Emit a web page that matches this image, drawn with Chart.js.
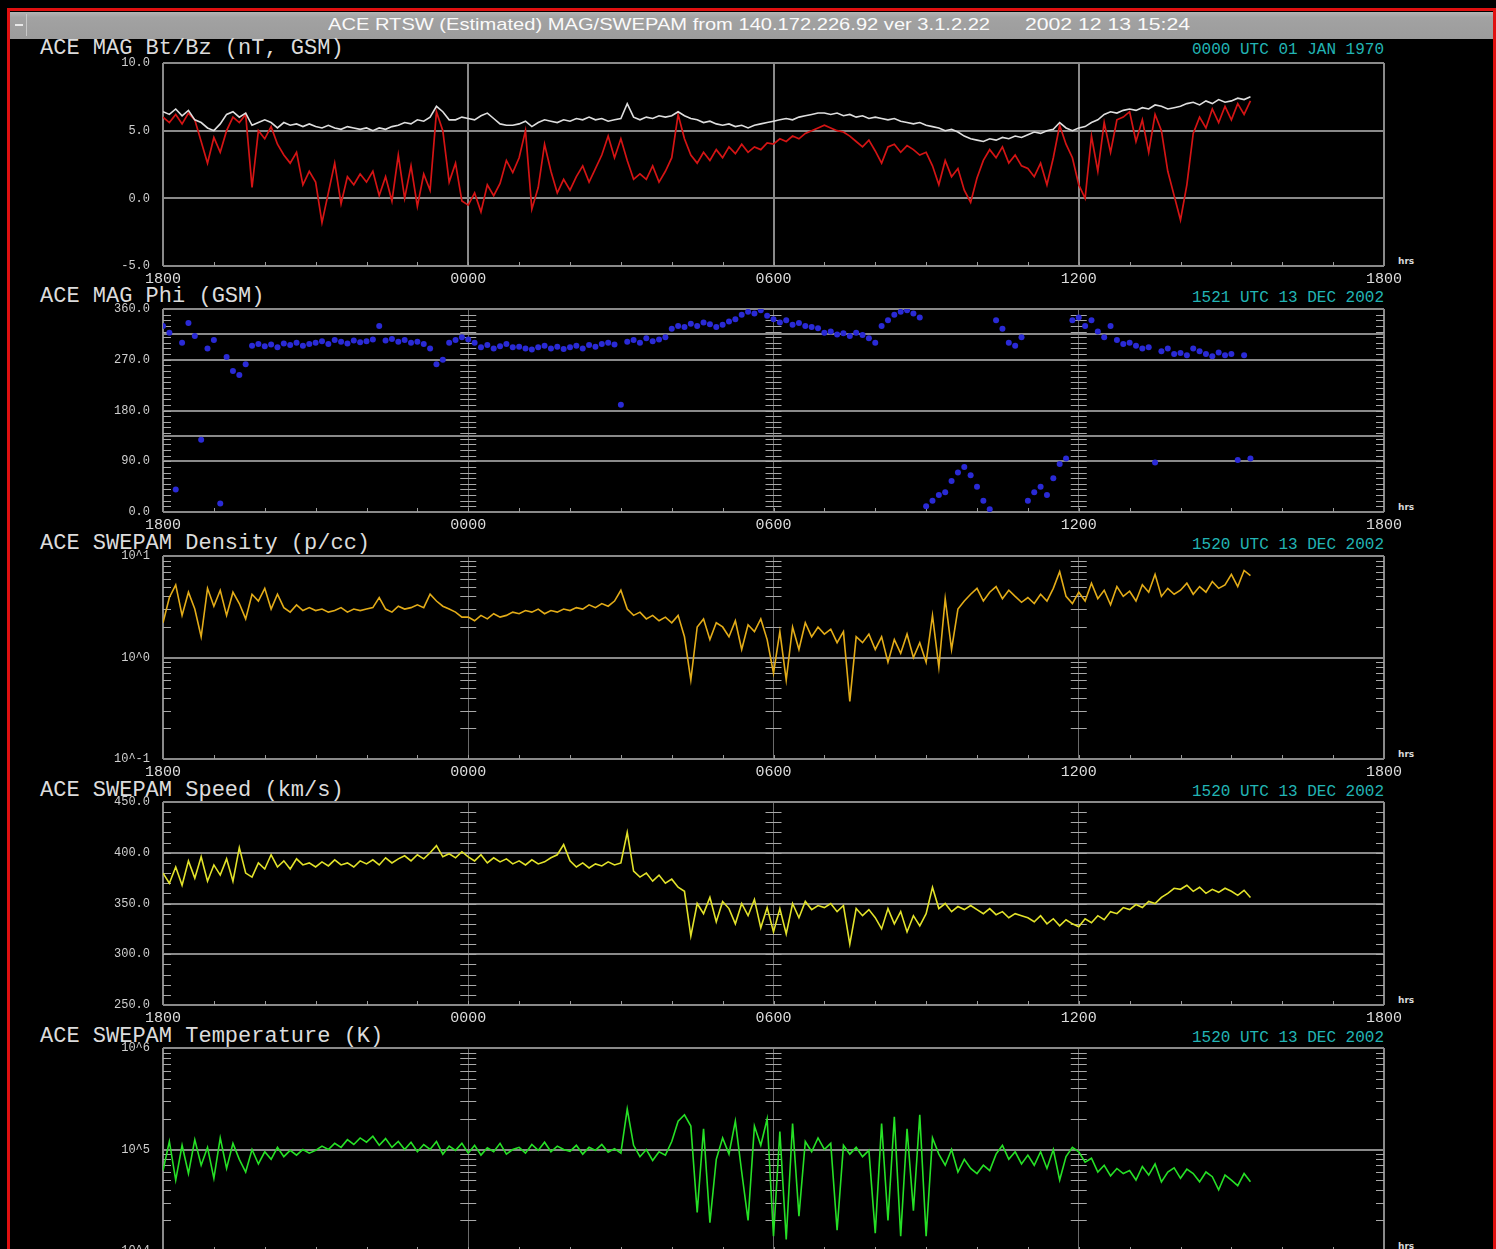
<!DOCTYPE html>
<html><head><meta charset="utf-8">
<script src="https://cdn.jsdelivr.net/npm/chart.js@4.4.1/dist/chart.umd.min.js"></script>
<style>
html,body{margin:0;padding:0;background:#000;width:1496px;height:1249px;overflow:hidden;}
.abs{position:absolute;white-space:pre;}
#frame{left:7px;top:8px;width:1483px;height:1300px;border:3px solid #e01010;}
#bar{left:10px;top:12px;width:1483px;height:27px;background:linear-gradient(#b4b4b4,#a2a2a2 20%,#9c9c9c);}
#btn{left:12px;top:14px;width:14px;height:22px;border-right:1px solid #c8c8c8;}
#btn:after{content:"";position:absolute;left:3px;top:10px;width:8px;height:2px;background:#e8e8e8;}
.hdr{color:#fafafa;font-family:"Liberation Sans",sans-serif;font-size:17px;top:15px;line-height:20px;transform-origin:0 50%;}
.ttl{color:#dcdcdc;font-family:"Liberation Mono",monospace;font-size:22px;line-height:22px;left:40px;}
.dt{color:#22b4b4;font-family:"Liberation Mono",monospace;font-size:16px;line-height:16px;right:112px;}
.hrs{color:#d8d8d8;font-family:"DejaVu Sans",sans-serif;font-size:9px;line-height:9px;left:1398px;font-weight:bold;}
canvas{position:absolute;left:0;}
</style></head><body>
<div id="frame" class="abs"></div>
<div id="bar" class="abs"></div>
<div id="btn" class="abs"></div>
<div id="h1" class="abs hdr" style="left:328px">ACE RTSW (Estimated) MAG/SWEPAM from 140.172.226.92 ver 3.1.2.22</div>
<div id="h2" class="abs hdr" style="left:1025px">2002 12 13 15:24</div>
<div id="texts"></div>
<script>
// ---------------- data ----------------
const STEP_HOURS = 0.125;           // sample spacing, hours after 1800 UT
const xTickHours  = [0, 6, 12, 18, 24];
const xTickLabels = ['1800', '0000', '0600', '1200', '1800'];

const bt = [
6.4,6.2,6.6,6.1,6.5,5.8,5.6,5.2,
5.0,5.5,6.2,6.4,6.0,6.3,5.4,5.6,
5.8,5.6,5.2,5.6,5.4,5.5,5.3,5.5,
5.3,5.2,5.4,5.2,5.1,5.3,5.2,5.1,
5.2,5.0,5.2,5.1,5.3,5.4,5.6,5.5,
5.8,5.7,6.0,6.8,6.4,5.8,5.8,6.0,
5.9,5.8,6.1,6.3,5.9,5.5,5.4,5.4,
5.5,5.7,5.3,5.6,5.8,5.7,5.6,5.8,
5.7,5.9,5.8,6.0,5.8,5.9,5.7,5.8,
5.9,7.0,6.0,5.8,6.0,5.9,6.1,6.0,
6.1,6.4,6.1,5.9,5.8,5.6,5.7,5.5,
5.4,5.5,5.3,5.4,5.2,5.4,5.5,5.6,
5.7,5.8,5.9,5.8,6.0,6.1,6.2,6.3,
6.3,6.2,6.3,6.1,6.2,6.0,6.1,5.9,
6.0,5.9,5.8,5.9,5.7,5.6,5.5,5.6,
5.4,5.3,5.2,5.0,5.1,4.9,4.6,4.4,
4.3,4.2,4.4,4.3,4.5,4.4,4.6,4.5,
4.7,4.9,4.8,5.0,5.1,5.6,5.2,5.0,
5.2,5.3,5.6,5.8,6.2,6.4,6.3,6.5,
6.6,6.5,6.7,6.6,6.9,6.8,6.6,6.7,
6.8,7.0,7.1,6.9,7.2,7.0,7.3,7.1,
7.2,7.4,7.3,7.5];
const bz = [
6.0,5.6,6.2,5.5,6.3,5.8,4.2,2.6,
4.5,3.4,5.0,6.0,5.6,6.2,0.8,5.0,
4.4,5.3,4.0,3.2,2.6,3.4,1.0,2.0,
1.2,-1.8,0.4,2.6,-0.4,1.6,1.0,1.8,
1.2,2.0,0.2,1.6,-0.2,3.2,0.0,2.4,
-0.6,1.8,0.6,6.4,5.0,1.2,2.6,-0.2,
-0.5,0.4,-1.0,1.0,0.2,1.1,2.8,1.9,
3.0,5.0,-0.8,0.8,4.0,2.0,0.4,1.4,
0.6,1.6,2.4,1.2,2.2,3.2,4.6,3.0,
4.4,2.8,1.4,1.8,1.4,2.4,1.2,2.0,
3.0,6.2,4.4,3.2,2.6,3.4,2.8,3.6,
3.0,3.8,3.3,4.0,3.4,3.8,3.6,4.1,
4.0,4.4,4.2,4.6,4.4,4.8,5.0,5.2,
5.4,5.2,5.0,4.9,4.6,4.2,3.8,4.3,
3.5,2.6,3.8,4.0,3.4,3.9,3.6,3.2,
3.4,2.4,1.0,2.8,1.6,2.2,0.6,-0.3,
1.5,2.8,3.6,3.0,3.8,2.6,3.2,2.4,
2.2,1.6,2.6,1.0,3.0,5.4,4.0,3.0,
1.0,0.0,4.6,2.0,5.6,3.4,5.8,6.0,
6.4,4.2,5.8,3.4,6.2,5.0,2.0,0.2,
-1.6,1.0,4.8,6.0,5.2,6.6,5.6,6.8,
5.8,7.0,6.2,7.2];
const phi = [
330,318,40,300,335,312,128,290,
305,15,275,250,243,262,295,298,
294,297,292,299,296,300,295,298,
300,303,298,305,302,299,304,301,
303,306,330,304,307,302,305,300,
302,298,290,262,270,300,305,310,
306,300,292,296,290,294,298,292,
293,290,288,292,295,290,293,289,
292,295,290,296,293,298,300,297,
190,302,305,300,308,303,306,310,
325,330,328,334,330,336,333,328,
332,338,342,350,355,352,358,348,
342,336,340,332,335,330,328,326,
318,320,315,317,312,318,314,308,
300,330,340,350,355,358,352,345,
10,20,30,35,55,70,80,65,
45,20,5,340,325,300,295,310,
20,35,45,30,60,85,95,340,
345,330,340,320,310,330,305,298,
300,295,290,292,88,285,290,280,
282,278,290,285,280,276,283,278,
280,92,278,95];
const density = [
2.2,3.9,5.2,2.6,4.4,3.0,1.6,4.8,
3.2,4.6,2.6,4.4,3.4,2.4,4.2,3.6,
4.8,3.0,4.2,3.1,2.8,3.3,2.9,3.1,
2.9,3.0,2.8,2.9,3.1,2.8,3.0,2.9,
3.0,3.1,3.9,3.0,2.8,3.2,3.0,3.1,
3.3,3.1,4.2,3.6,3.2,3.0,2.8,2.5,
2.5,2.3,2.6,2.4,2.7,2.5,2.6,2.8,
2.7,2.9,2.8,3.0,2.7,2.9,2.8,3.0,
2.9,3.1,3.0,3.3,3.1,3.4,3.2,3.6,
4.6,3.0,2.6,2.8,2.4,2.6,2.3,2.5,
2.2,2.6,1.6,0.6,2.0,2.4,1.5,2.2,
2.0,1.6,2.3,1.2,2.1,1.8,2.4,1.5,
0.7,1.8,0.6,2.0,1.2,2.2,1.6,2.0,
1.7,1.9,1.4,1.8,0.37,1.6,1.4,1.7,
1.2,1.6,0.9,1.5,1.1,1.7,1.0,1.4,
0.9,2.6,0.8,3.8,1.2,3.0,3.6,4.2,
4.8,3.6,4.4,5.0,3.8,4.6,4.0,3.5,
3.9,3.4,4.2,3.6,4.8,7.0,4.0,3.4,
4.4,3.6,5.4,3.8,4.6,3.3,5.0,4.0,
4.5,3.6,5.2,4.4,6.6,4.0,4.8,4.2,
4.6,5.4,4.2,5.0,4.4,5.6,4.8,5.2,
6.6,5.0,7.2,6.4];
const speed = [
380,370,386,368,392,375,396,372,
388,378,394,372,405,380,376,390,
384,398,386,392,384,394,388,390,
386,391,387,393,388,390,386,392,
389,393,388,395,390,394,397,392,
398,394,400,407,396,399,395,401,
396,392,398,390,395,391,394,389,
392,388,393,389,391,395,398,408,
392,386,390,385,389,387,391,388,
390,420,382,376,380,372,378,370,
374,366,362,318,350,340,356,332,
352,345,330,350,338,354,326,346,
322,345,320,350,336,352,344,348,
346,350,342,348,310,345,338,344,
336,325,345,330,342,322,338,328,
340,366,345,350,342,347,344,348,
344,340,345,339,342,336,340,338,
336,332,338,330,335,328,334,330,
327,335,331,338,334,342,340,346,
344,349,346,352,350,356,360,365,
364,368,362,366,360,364,361,365,
362,358,363,356];
const temperature = [
62000,120000,50000,110000,58000,125000,70000,105000,
52000,130000,65000,115000,80000,60000,100000,72000,
95000,80000,105000,85000,98000,88000,100000,92000,
98000,108000,100000,115000,105000,125000,112000,130000,
118000,135000,110000,128000,105000,120000,100000,118000,
95000,112000,100000,120000,90000,108000,98000,115000,
92000,110000,88000,104000,95000,115000,90000,100000,
105000,92000,112000,98000,118000,95000,108000,100000,
96000,110000,90000,105000,98000,112000,94000,102000,
92000,250000,110000,85000,100000,78000,95000,88000,
120000,190000,220000,170000,24000,160000,19000,80000,
130000,90000,190000,60000,20000,170000,110000,200000,
14000,150000,13000,180000,22000,120000,95000,130000,
100000,115000,16000,110000,90000,105000,85000,98000,
15000,180000,20000,210000,14000,160000,25000,220000,
14000,130000,90000,70000,100000,60000,80000,65000,
58000,70000,62000,90000,110000,80000,95000,72000,
88000,70000,95000,65000,100000,50000,85000,105000,
95000,75000,82000,60000,70000,55000,65000,58000,
62000,50000,68000,56000,72000,48000,60000,66000,
52000,64000,58000,48000,60000,54000,40000,56000,
50000,44000,58000,48000];

const btbzTicks = [-5, 0, 5, 10];
const phiTicks = [0, 90, 135, 180, 270, 315, 360];
const phiLabelled = [0, 90, 180, 270, 360];
const densTicks = [0.1, 1, 10];
const densLabels = {0.1: '10^-1', 1: '10^0', 10: '10^1'};
const speedTicks = [250, 300, 350, 400, 450];
const tempTicks = [1e4, 1e5, 1e6];
const tempLabels = {10000: '10^4', 100000: '10^5', 1000000: '10^6'};

const panelTitles = ['ACE MAG Bt/Bz (nT, GSM)', 'ACE MAG Phi (GSM)', 'ACE SWEPAM Density (p/cc)', 'ACE SWEPAM Speed (km/s)', 'ACE SWEPAM Temperature (K)'];
const panelStamps = ['0000 UTC 01 JAN 1970', '1521 UTC 13 DEC 2002', '1520 UTC 13 DEC 2002', '1520 UTC 13 DEC 2002', '1520 UTC 13 DEC 2002'];

// ---------------- helpers ----------------
const hours = bt.map((_, i) => i * STEP_HOURS);
const pts = arr => arr.map((v, i) => ({x: hours[i], y: v}));
const PLOT_TOPS = [63, 309, 556, 802, 1048];
const PLOT_H = 203, PAD_T = 24, X_H = 30, PAD_B = 5, Y_W = 100;

const decor = {
  id: 'decor',
  beforeDatasetsDraw(chart, args, opts) {
    const {ctx, chartArea: a, scales: {x, y}} = chart;
    ctx.save();
    ctx.strokeStyle = '#9a9a9a';
    ctx.lineWidth = 1;
    ctx.beginPath();
    for (let h = 1; h < 24; h++) {
      const px = Math.round(x.getPixelForValue(h)) + 0.5;
      ctx.moveTo(px, a.bottom); ctx.lineTo(px, a.bottom - 4);
    }
    ctx.stroke();
    if (opts.minor) {
      ctx.strokeStyle = '#a8a8a8';
      ctx.beginPath();
      for (const v of opts.minor) {
        const py = Math.round(y.getPixelForValue(v)) + 0.5;
        ctx.moveTo(a.left, py); ctx.lineTo(a.left + 8, py);
        ctx.moveTo(a.right - 8, py); ctx.lineTo(a.right, py);
        for (const h of [6, 12, 18]) {
          const px = x.getPixelForValue(h);
          ctx.moveTo(px - 8, py); ctx.lineTo(px + 8, py);
        }
      }
      ctx.stroke();
    }
    ctx.restore();
  }
};

function range(a, b, s) { const r = []; for (let v = a; v <= b + 1e-9; v += s) r.push(v); return r; }
function logMinor(d0, d1) { const r = []; for (let d = d0; d < d1; d++) for (let k = 2; k <= 9; k++) r.push(k * Math.pow(10, d)); return r; }

function makePanel(idx, yCfg, datasets, minor, innerGrid) {
  const c = document.createElement('canvas');
  c.width = 1496; c.height = PAD_T + PLOT_H + X_H + PAD_B;
  c.style.top = (PLOT_TOPS[idx] - PAD_T) + 'px';
  document.body.appendChild(c);
  const edge = v => v === 0 || v === 24;
  new Chart(c, {
    type: 'line',
    data: {datasets},
    plugins: [decor],
    options: {
      responsive: false, animation: false, devicePixelRatio: 1,
      layout: {padding: {left: 163 - Y_W, right: 112, top: PAD_T, bottom: PAD_B}},
      elements: {point: {radius: 0}, line: {tension: 0}},
      plugins: {legend: {display: false}, tooltip: {enabled: false}, decor: {minor}},
      scales: {
        x: {
          type: 'linear', min: 0, max: 24,
          afterBuildTicks: s => { s.ticks = xTickHours.map(v => ({value: v})); },
          afterFit: s => { s.height = X_H; },
          ticks: {callback: (v, i) => xTickLabels[i], color: '#dcdcdc', font: {family: 'Liberation Mono', size: 15}, padding: 4, maxRotation: 0, autoSkip: false},
          grid: {
            color: g => (g.tick && edge(g.tick.value)) ? '#8a8a8a' : innerGrid.color,
            lineWidth: g => (g.tick && edge(g.tick.value)) ? 2 : innerGrid.width,
            drawTicks: false
          },
          border: {display: false}
        },
        y: Object.assign({
          afterFit: s => { s.width = Y_W; },
          grid: {color: '#8a8a8a', lineWidth: 2, drawTicks: false},
          border: {display: false}
        }, yCfg)
      }
    }
  });
}

const yFont = {family: 'Liberation Mono', size: 12};
const yTickStyle = extra => Object.assign({color: '#cfcfcf', font: yFont, padding: 13, autoSkip: false}, extra);

// Panel 1: Bt / Bz
makePanel(0, {
  type: 'linear', min: -5, max: 10,
  afterBuildTicks: s => { s.ticks = btbzTicks.map(v => ({value: v})); },
  ticks: yTickStyle({callback: v => v.toFixed(1)})
}, [
  {data: pts(bt), borderColor: '#dedede', borderWidth: 1.6},
  {data: pts(bz), borderColor: '#d41414', borderWidth: 1.7}
], null, {color: '#8a8a8a', width: 2});

// Panel 2: Phi
makePanel(1, {
  type: 'linear', min: 0, max: 360,
  afterBuildTicks: s => { s.ticks = phiTicks.map(v => ({value: v})); },
  ticks: yTickStyle({callback: v => phiLabelled.includes(v) ? v.toFixed(1) : ''})
}, [
  {data: pts(phi), showLine: false, pointRadius: 3, pointBackgroundColor: '#2a2ad6', pointBorderWidth: 0}
], range(10, 350, 10), {color: '#6a6a6a', width: 1});

// Panel 3: Density
makePanel(2, {
  type: 'logarithmic', min: 0.1, max: 10,
  afterBuildTicks: s => { s.ticks = densTicks.map(v => ({value: v})); },
  ticks: yTickStyle({callback: v => densLabels[v] || ''})
}, [
  {data: pts(density), borderColor: '#e3ac18', borderWidth: 1.6}
], logMinor(-1, 1), {color: '#6a6a6a', width: 1});

// Panel 4: Speed
makePanel(3, {
  type: 'linear', min: 250, max: 450,
  afterBuildTicks: s => { s.ticks = speedTicks.map(v => ({value: v})); },
  ticks: yTickStyle({callback: v => v.toFixed(1)})
}, [
  {data: pts(speed), borderColor: '#e2e22a', borderWidth: 1.6}
], range(260, 440, 10), {color: '#6a6a6a', width: 1});

// Panel 5: Temperature
makePanel(4, {
  type: 'logarithmic', min: 1e4, max: 1e6,
  afterBuildTicks: s => { s.ticks = tempTicks.map(v => ({value: v})); },
  ticks: yTickStyle({callback: v => tempLabels[v] || ''})
}, [
  {data: pts(temperature), borderColor: '#26e026', borderWidth: 1.6}
], logMinor(4, 6), {color: '#6a6a6a', width: 1});

// ---------------- text ----------------
const texts = document.getElementById('texts');
const TITLE_CENTERS = [48, 296, 543, 790, 1036];
panelTitles.forEach((t, i) => {
  const d = document.createElement('div');
  d.className = 'abs ttl'; d.textContent = t;
  d.style.top = (TITLE_CENTERS[i] - 9.6) + 'px';
  texts.appendChild(d);
  const s = document.createElement('div');
  s.className = 'abs dt'; s.textContent = panelStamps[i];
  s.style.top = (TITLE_CENTERS[i] - 6) + 'px';
  texts.appendChild(s);
  const h = document.createElement('div');
  h.className = 'abs hrs'; h.textContent = 'hrs';
  h.style.top = (PLOT_TOPS[i] + PLOT_H - 9) + 'px';
  texts.appendChild(h);
});
// fit header text widths to reference
[['h1', 662], ['h2', 165]].forEach(([id, w]) => {
  const e = document.getElementById(id);
  const k = w / e.getBoundingClientRect().width;
  e.style.transform = 'scaleX(' + k.toFixed(3) + ')';
});
</script>
</body></html>
